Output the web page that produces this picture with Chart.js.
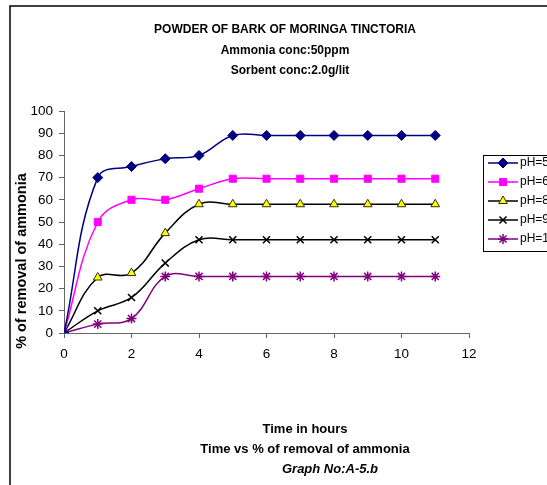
<!DOCTYPE html>
<html>
<head>
<meta charset="utf-8">
<script src="https://cdn.jsdelivr.net/npm/chart.js@4.4.1/dist/chart.umd.min.js"></script>
<style>
  html, body { margin: 0; padding: 0; background: #fff; }
  canvas { display: block; }
</style>
</head>
<body>
<canvas id="chartPh" width="547" height="485"></canvas>
<script>
  // Tiempo en horas y % de eliminación de amoníaco para cada pH
  const hours = [0, 1, 2, 3, 4, 5, 6, 7, 8, 9, 10, 11];
  const ph5 = [0, 70, 75, 78.5, 80, 89, 89, 89, 89, 89, 89, 89];
  const ph6 = [0, 50, 60, 60, 65, 69.5, 69.5, 69.5, 69.5, 69.5, 69.5, 69.5];
  const ph8 = [0, 25, 27, 45, 58, 58, 58, 58, 58, 58, 58, 58];
  const ph9 = [0, 10, 16, 31.5, 42, 42, 42, 42, 42, 42, 42, 42];
  const ph10 = [0, 4, 6.5, 25.5, 25.5, 25.5, 25.5, 25.5, 25.5, 25.5, 25.5, 25.5];
  const seriesNames = ['pH=5', 'pH=6', 'pH=8', 'pH=9', 'pH=10'];

  const titleLines = ['POWDER OF BARK OF MORINGA TINCTORIA', 'Ammonia conc:50ppm', 'Sorbent conc:2.0g/lit'];
  const xTitle = 'Time in hours';
  const caption = 'Time vs % of removal of ammonia';
  const graphNo = 'Graph No:A-5.b';
  const yTitle = '% of removal of ammonia';

  const toPoints = (vals) => hours.map((h, i) => ({ x: h, y: vals[i] }));

  const styles = [
    { line: '#000080', fill: '#000080', point: 'rectRot', r: 5 },
    { line: '#ff00ff', fill: '#ff00ff', point: 'rect', r: 5 },
    { line: '#000000', fill: '#ffff00', point: 'triangle', r: 5, pointBorder: '#333300' },
    { line: '#000000', fill: '#000000', point: 'crossRot', r: 5 },
    { line: '#800080', fill: '#800080', point: 'star', r: 5 }
  ];
  const allValues = [ph5, ph6, ph8, ph9, ph10];

  const datasets = allValues.map((vals, i) => ({
    label: seriesNames[i],
    data: toPoints(vals),
    showLine: true,
    borderColor: styles[i].line,
    borderWidth: 1.5,
    tension: 0.4,
    pointStyle: styles[i].point,
    pointRadius: styles[i].r,
    pointBackgroundColor: styles[i].fill,
    pointBorderColor: styles[i].pointBorder || styles[i].line,
    pointBorderWidth: (styles[i].point === 'crossRot' || styles[i].point === 'star') ? 1.5 : 1,
    pointHoverRadius: styles[i].r
  }));

  function marker(ctx, st, x, y) {
    ctx.save();
    ctx.fillStyle = st.fill;
    ctx.strokeStyle = st.pointBorder || st.line;
    const bw = (st.point === 'crossRot' || st.point === 'star') ? 1.5 : 1;
    ctx.lineWidth = bw;
    if (Chart.helpers && Chart.helpers.drawPoint) {
      Chart.helpers.drawPoint(ctx, { pointStyle: st.point, radius: st.r, rotation: 0, borderWidth: bw }, x, y);
    }
    ctx.restore();
  }

  const decor = {
    id: 'decor',
    afterDraw(chart) {
      const ctx = chart.ctx;
      ctx.save();
      // marco exterior
      ctx.strokeStyle = '#000';
      ctx.lineWidth = 1.5;
      ctx.beginPath();
      ctx.moveTo(10, 490);
      ctx.lineTo(10, 6);
      ctx.lineTo(560, 6);
      ctx.stroke();

      ctx.fillStyle = '#000';
      ctx.textAlign = 'center';
      ctx.textBaseline = 'middle';
      ctx.font = 'bold 12px "Liberation Sans", Arial, sans-serif';
      ctx.fillText(titleLines[0], 285, 30);
      ctx.fillText(titleLines[1], 285, 51);
      ctx.fillText(titleLines[2], 290, 71);

      ctx.font = 'bold 13px "Liberation Sans", Arial, sans-serif';
      ctx.fillText(xTitle, 305, 429);
      ctx.fillText(caption, 305, 449);
      ctx.font = 'italic bold 13px "Liberation Sans", Arial, sans-serif';
      ctx.fillText(graphNo, 330, 469);

      ctx.save();
      ctx.translate(22, 261);
      ctx.rotate(-Math.PI / 2);
      ctx.font = 'bold 14.5px "Liberation Sans", Arial, sans-serif';
      ctx.fillText(yTitle, 0, 0);
      ctx.restore();

      // leyenda
      ctx.strokeStyle = '#000';
      ctx.lineWidth = 1;
      ctx.strokeRect(483.5, 155.5, 80, 96);
      ctx.textAlign = 'left';
      ctx.font = '12px "Liberation Sans", Arial, sans-serif';
      styles.forEach((st, i) => {
        const y = 163 + i * 19;
        ctx.strokeStyle = st.line;
        ctx.lineWidth = 1.5;
        ctx.beginPath();
        ctx.moveTo(488, y);
        ctx.lineTo(518, y);
        ctx.stroke();
        marker(ctx, st, 503, y);
        ctx.fillStyle = '#000';
        ctx.fillText(seriesNames[i], 520, y);
      });
      ctx.restore();
    }
  };

  const ctxPh = document.getElementById('chartPh').getContext('2d');
  new Chart(ctxPh, {
    type: 'scatter',
    data: { datasets: datasets },
    options: {
      responsive: false,
      animation: false,
      layout: { padding: { left: 0, right: 78, top: 111, bottom: 0 } },
      plugins: {
        legend: { display: false },
        title: { display: false },
        tooltip: { enabled: false }
      },
      scales: {
        x: {
          type: 'linear',
          min: 0,
          max: 12,
          ticks: { stepSize: 2, color: '#000', padding: 8, font: { family: '"Liberation Sans", Arial', size: 13.5 } },
          grid: { drawOnChartArea: false, drawTicks: true, tickLength: 5, color: '#666' },
          border: { display: true, color: '#666', width: 1 },
          afterFit(scale) { scale.height = 152; }
        },
        y: {
          min: 0,
          max: 100,
          ticks: { stepSize: 10, color: '#000', padding: 6, font: { family: '"Liberation Sans", Arial', size: 13.5 } },
          grid: { drawOnChartArea: false, drawTicks: true, tickLength: 5, color: '#666' },
          border: { display: true, color: '#666', width: 1 },
          afterFit(scale) { scale.width = 64; }
        }
      }
    },
    plugins: [decor]
  });
</script>
</body>
</html>
